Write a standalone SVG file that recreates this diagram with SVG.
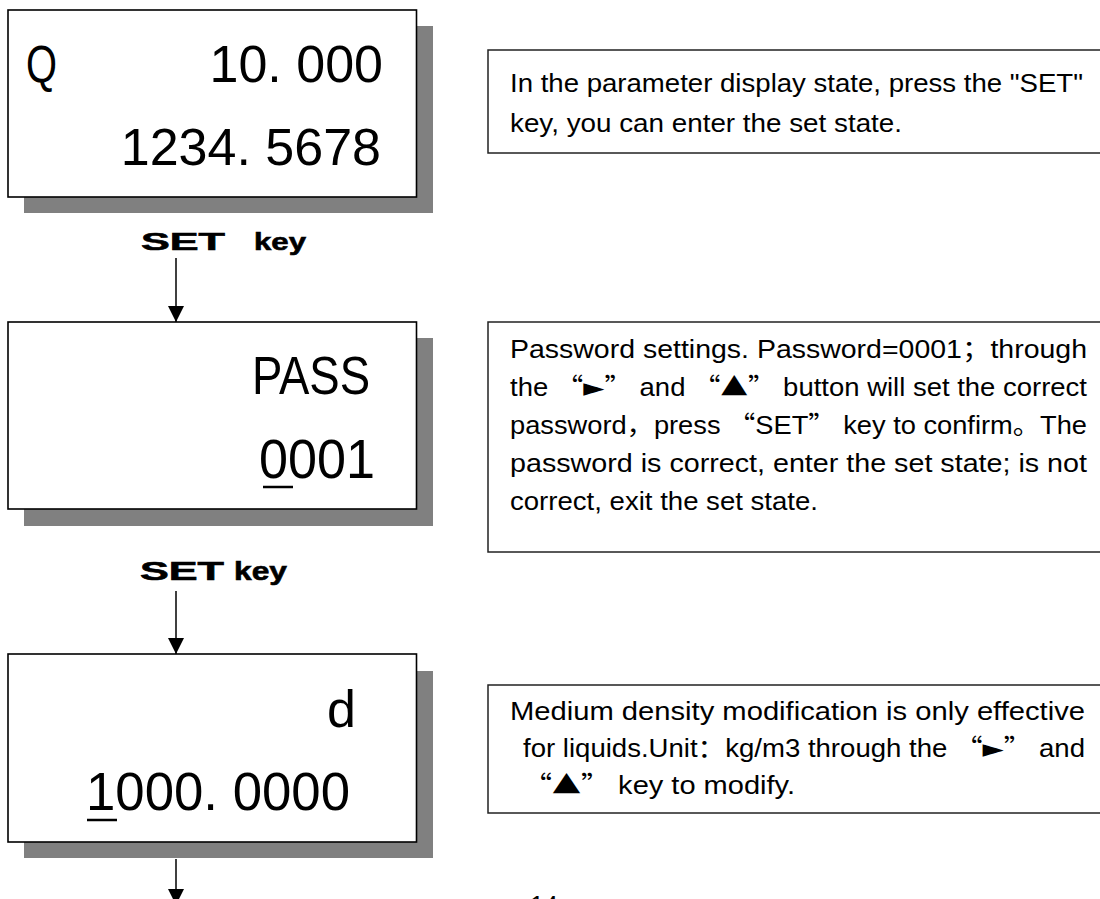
<svg xmlns="http://www.w3.org/2000/svg" width="1100" height="899" viewBox="0 0 1100 899">
  <defs>
    <style>
      .shadow { fill: #808080; }
      .lcd { fill: #ffffff; stroke: #000000; stroke-width: 1.6; }
      .lcdtxt { font-family: "Liberation Sans", Arial, sans-serif; fill: #000000; }
      .key { font-family: "Liberation Sans", Arial, sans-serif; font-weight: bold; fill: #000000; stroke: #000000; stroke-width: 0.6; }
      .note { fill: #ffffff; stroke: #222222; stroke-width: 1.5; }
      .notetxt { font-family: "Liberation Sans", Arial, "Noto Sans CJK SC", sans-serif; font-size: 25px; fill: #000000; }
      .cjk { font-family: "Noto Sans CJK SC", "Noto Sans CJK JP", sans-serif; }
      .sym { font-family: "DejaVu Sans", "Liberation Sans", sans-serif; }
      .conn { stroke: #000000; stroke-width: 1.5; fill: none; }
      .uline { stroke: #000000; stroke-width: 2.5; }
    </style>
    <marker id="arrow" markerUnits="userSpaceOnUse" markerWidth="16" markerHeight="16" viewBox="0 0 16 16" refX="16" refY="8" orient="auto">
      <path d="M0,0 L16,8 L0,16 z" fill="#000000"/>
    </marker>
  </defs>

  <rect width="1100" height="899" fill="#ffffff"/>

  <!-- LCD 1 -->
  <g id="lcd1">
    <rect class="shadow" x="24" y="26" width="409" height="187"/>
    <rect class="lcd" x="8" y="10" width="408.5" height="187"/>
    <text class="lcdtxt" x="26" y="82" font-size="52" textLength="31" lengthAdjust="spacingAndGlyphs">Q</text>
    <text class="lcdtxt" x="383" y="82" font-size="52" text-anchor="end">10. 000</text>
    <text class="lcdtxt" x="381" y="165" font-size="52" text-anchor="end">1234. 5678</text>
  </g>

  <g id="label1">
    <text class="key" x="141" y="250" font-size="24" textLength="84" lengthAdjust="spacingAndGlyphs">SET</text>
    <text class="key" x="254" y="250" font-size="24" textLength="52" lengthAdjust="spacingAndGlyphs">key</text>
  </g>

  <!-- LCD 2 -->
  <g id="lcd2">
    <rect class="shadow" x="24" y="338" width="409" height="188"/>
    <rect class="lcd" x="8" y="322" width="408.5" height="187"/>
    <text class="lcdtxt" x="252" y="394" font-size="54" textLength="118" lengthAdjust="spacingAndGlyphs">PASS</text>
    <text class="lcdtxt" x="259" y="478" font-size="56" textLength="116" lengthAdjust="spacingAndGlyphs">0001</text>
    <line class="uline" x1="263" y1="487" x2="293" y2="487"/>
  </g>

  <g id="label2">
    <text class="key" x="140" y="580" font-size="25" textLength="84" lengthAdjust="spacingAndGlyphs">SET</text>
    <text class="key" x="234" y="580" font-size="25" textLength="53" lengthAdjust="spacingAndGlyphs">key</text>
  </g>

  <!-- LCD 3 -->
  <g id="lcd3">
    <rect class="shadow" x="24" y="671" width="409" height="187"/>
    <rect class="lcd" x="8" y="654" width="408.5" height="188"/>
    <text class="lcdtxt" x="327" y="727" font-size="52">d</text>
    <text class="lcdtxt" x="86" y="810" font-size="53" textLength="264" lengthAdjust="spacingAndGlyphs">1000. 0000</text>
    <line class="uline" x1="87" y1="820" x2="117" y2="820"/>
  </g>

  <!-- Notes -->
  <g id="noteA">
    <rect class="note" x="488" y="50" width="640" height="103"/>
    <text class="notetxt" x="510" y="92" textLength="573" lengthAdjust="spacingAndGlyphs">In the parameter display state, press the "SET"</text>
    <text class="notetxt" x="510" y="132" textLength="392" lengthAdjust="spacingAndGlyphs">key, you can enter the set state.</text>
  </g>

  <g id="noteB">
    <rect class="note" x="488" y="322" width="640" height="230"/>
    <text class="notetxt" x="510" y="358" textLength="577" lengthAdjust="spacingAndGlyphs">Password settings. Password=0001<tspan class="cjk">；</tspan>through</text>
    <text class="notetxt" x="510" y="396" textLength="577" lengthAdjust="spacingAndGlyphs">the <tspan class="cjk">“</tspan><tspan class="sym">►</tspan><tspan class="cjk">”</tspan> and <tspan class="cjk">“▲”</tspan> button will set the correct</text>
    <text class="notetxt" x="510" y="434" textLength="577" lengthAdjust="spacingAndGlyphs">password<tspan class="cjk">，</tspan>press <tspan class="cjk">“</tspan>SET<tspan class="cjk">”</tspan> key to confirm<tspan class="cjk">。</tspan>The</text>
    <text class="notetxt" x="510" y="472" textLength="577" lengthAdjust="spacingAndGlyphs">password is correct, enter the set state; is not</text>
    <text class="notetxt" x="510" y="510" textLength="308" lengthAdjust="spacingAndGlyphs">correct, exit the set state.</text>
  </g>

  <g id="noteC">
    <rect class="note" x="488" y="685" width="640" height="128"/>
    <text class="notetxt" x="510" y="720" textLength="575" lengthAdjust="spacingAndGlyphs">Medium density modification is only effective</text>
    <text class="notetxt" x="523" y="757" textLength="562" lengthAdjust="spacingAndGlyphs">for liquids.Unit<tspan class="cjk">：</tspan>kg/m3 through the <tspan class="cjk">“</tspan><tspan class="sym">►</tspan><tspan class="cjk">”</tspan> and</text>
    <text class="notetxt" x="523" y="794" textLength="272" lengthAdjust="spacingAndGlyphs"><tspan class="cjk">“▲”</tspan> key to  modify.</text>
  </g>

  <text class="notetxt" x="530" y="914" font-size="20">14</text>

  <!-- Connectors -->
  <g id="connectors">
    <line class="conn" x1="176" y1="258" x2="176" y2="322" marker-end="url(#arrow)"/>
    <line class="conn" x1="176" y1="591" x2="176" y2="654" marker-end="url(#arrow)"/>
    <line class="conn" x1="176" y1="859" x2="176" y2="905" marker-end="url(#arrow)"/>
  </g>
</svg>
